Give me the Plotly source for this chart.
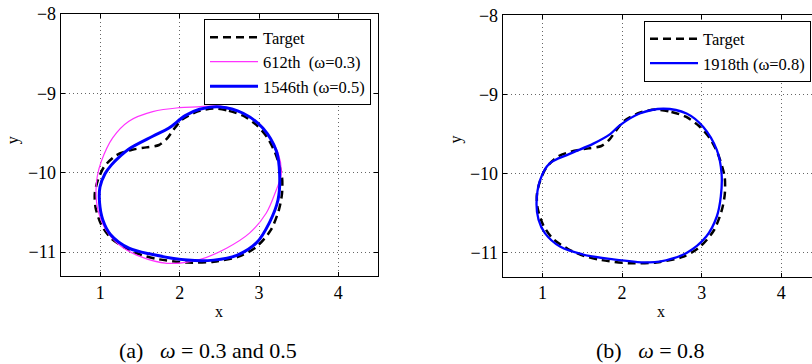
import plotly.graph_objects as go

# ---- data ----
target_x = [2.42, 2.62, 2.80, 2.97, 3.10, 3.20, 3.26, 3.29, 3.29, 3.25, 3.15, 2.97, 2.76, 2.43, 2.09,
            1.74, 1.53, 1.32, 1.13, 1.01, 0.94, 0.93, 0.97, 1.05, 1.20, 1.40, 1.58, 1.74, 1.84, 1.92,
            2.03, 2.22, 2.42]
target_y = [-9.19, -9.22, -9.28, -9.40, -9.55, -9.74, -9.92, -10.05, -10.26, -10.47, -10.72, -10.93,
            -11.05, -11.12, -11.13, -11.09, -11.04, -10.95, -10.82, -10.65, -10.44, -10.26, -10.09,
            -9.92, -9.78, -9.71, -9.68, -9.65, -9.57, -9.46, -9.33, -9.23, -9.19]

it612_x = [1.99, 2.22, 2.51, 2.84, 3.05, 3.24, 3.28, 3.25, 3.22, 3.09, 2.88, 2.59, 2.26, 1.84, 1.49,
           1.24, 1.07, 0.97, 0.945, 0.96, 1.01, 1.155, 1.36, 1.66, 1.99]
it612_y = [-9.18, -9.17, -9.16, -9.27, -9.44, -9.75, -10.02, -10.13, -10.21, -10.51, -10.76, -10.95,
           -11.09, -11.14, -11.05, -10.91, -10.72, -10.47, -10.25, -10.05, -9.86, -9.56, -9.35,
           -9.23, -9.18]

it1546_x = [2.51, 2.80, 3.05, 3.22, 3.26, 3.24, 3.13, 2.97, 2.72, 2.43, 2.10, 1.66, 1.36, 1.13, 1.03,
            0.99, 0.995, 1.06, 1.14, 1.24, 1.36, 1.66, 1.86, 2.07, 2.25, 2.51]
it1546_y = [-9.17, -9.25, -9.44, -9.73, -10.02, -10.34, -10.63, -10.88, -11.04, -11.10, -11.10,
            -11.03, -10.95, -10.78, -10.59, -10.38, -10.18, -10.01, -9.90, -9.80, -9.70, -9.54,
            -9.44, -9.28, -9.20, -9.17]

it1918_x = [2.52, 2.81, 3.02, 3.19, 3.25, 3.24, 3.19, 3.06, 2.81, 2.47, 2.31, 1.89, 1.51, 1.22, 1.03,
            0.95, 0.925, 0.97, 1.09, 1.34, 1.64, 1.85, 1.97, 2.22, 2.52]
it1918_y = [-9.18, -9.24, -9.41, -9.70, -10.00, -10.29, -10.54, -10.79, -11.00, -11.11, -11.12,
            -11.08, -11.02, -10.92, -10.75, -10.58, -10.37, -10.08, -9.87, -9.75, -9.62, -9.50,
            -9.39, -9.24, -9.18]

x_ticks = [1, 2, 3, 4]
x_tick_labels = ["1", "2", "3", "4"]
y_ticks = [-8, -9, -10, -11]
y_tick_labels = ["\u22128", "\u22129", "\u221210", "\u221211"]

names_a = ["Target", "612th  (\u03c9=0.3)", "1546th (\u03c9=0.5)"]
names_b = ["Target", "1918th (\u03c9=0.8)"]
captions = ["(a)&nbsp;&nbsp; <i>\u03c9</i> = 0.3 and 0.5", "(b)&nbsp;&nbsp; <i>\u03c9</i> = 0.8"]

FONT = "Times New Roman, Liberation Serif, serif"
W, H = 812, 364

fig = go.Figure()

# left panel
fig.add_trace(go.Scatter(x=target_x, y=target_y, mode="lines", name=names_a[0],
                         line=dict(color="black", width=2.5, dash="8px,5px", shape="spline", smoothing=0.8),
                         xaxis="x", yaxis="y", legend="legend"))
fig.add_trace(go.Scatter(x=it612_x, y=it612_y, mode="lines", name=names_a[1],
                         line=dict(color="#FF33FF", width=1.2, shape="spline", smoothing=1),
                         xaxis="x", yaxis="y", legend="legend"))
fig.add_trace(go.Scatter(x=it1546_x, y=it1546_y, mode="lines", name=names_a[2],
                         line=dict(color="#0000FF", width=3, shape="spline", smoothing=1),
                         xaxis="x", yaxis="y", legend="legend"))

# right panel
fig.add_trace(go.Scatter(x=target_x, y=target_y, mode="lines", name=names_b[0],
                         line=dict(color="black", width=2.5, dash="8px,5px", shape="spline", smoothing=0.8),
                         xaxis="x2", yaxis="y2", legend="legend2"))
fig.add_trace(go.Scatter(x=it1918_x, y=it1918_y, mode="lines", name=names_b[1],
                         line=dict(color="#0000FF", width=2.3, shape="spline", smoothing=1),
                         xaxis="x2", yaxis="y2", legend="legend2"))

ax_common = dict(showline=True, linecolor="black", linewidth=1, ticks="inside", ticklen=4,
                 tickcolor="black", showgrid=True, gridcolor="#666666", griddash="1px,3px",
                 gridwidth=1, zeroline=False, automargin=False,
                 tickfont=dict(family=FONT, size=18, color="black"))

leg_common = dict(xanchor="right", yanchor="top", bgcolor="white", bordercolor="black",
                  borderwidth=1, font=dict(family=FONT, size=16.5, color="black"),
                  tracegroupgap=0, itemwidth=48)

fig.update_layout(
    template="none",
    width=W, height=H, margin=dict(l=0, r=0, t=0, b=0, pad=0, autoexpand=False),
    paper_bgcolor="white", plot_bgcolor="white",
    font=dict(family=FONT, color="black"),
    xaxis=dict(domain=[60.7 / W, 378 / W], range=[0.5, 4.5], anchor="y", mirror="ticks",
               tickvals=x_ticks, ticktext=x_tick_labels, **ax_common),
    yaxis=dict(domain=[1 - 276 / H, 1 - 14 / H], range=[-11.3, -8], anchor="x", mirror="ticks",
               tickvals=y_ticks, ticktext=y_tick_labels, **ax_common),
    xaxis2=dict(domain=[502.7 / W, 1.0], range=[0.5, 4.386], anchor="y2", mirror="ticks",
                tickvals=x_ticks, ticktext=x_tick_labels, **ax_common),
    yaxis2=dict(domain=[1 - 276.7 / H, 1 - 15.3 / H], range=[-11.3, -8], anchor="x2", mirror=False,
                tickvals=y_ticks, ticktext=y_tick_labels, **ax_common),
    legend=dict(x=371 / W, y=1 - 19 / H, **leg_common),
    legend2=dict(x=811 / W, y=1 - 20.5 / H, **leg_common),
    showlegend=True,
)

ann = []
for cx, ax_lbl in [((60.7 + 378) / 2, "x"), ((502.7 + 819) / 2, "x")]:
    ann.append(dict(text=ax_lbl, x=cx / W, y=1 - 311.5 / H, xref="paper", yref="paper",
                    showarrow=False, xanchor="center", yanchor="middle",
                    font=dict(family=FONT, size=16, color="black")))
for cx in [13.3, 455.5]:
    ann.append(dict(text="y", x=cx / W, y=1 - 140 / H, xref="paper", yref="paper",
                    showarrow=False, xanchor="center", yanchor="middle", textangle=-90,
                    font=dict(family=FONT, size=16, color="black")))
for cx, cap in [(207.7, captions[0]), (650.5, captions[1])]:
    ann.append(dict(text=cap, x=cx / W, y=1 - 350 / H, xref="paper", yref="paper",
                    showarrow=False, xanchor="center", yanchor="middle",
                    font=dict(family=FONT, size=22, color="black")))
fig.update_layout(annotations=ann)

fig.write_html("out.html", config={"displayModeBar": False},
               post_script="document.body.style.margin='0px';document.body.style.overflow='hidden';")
